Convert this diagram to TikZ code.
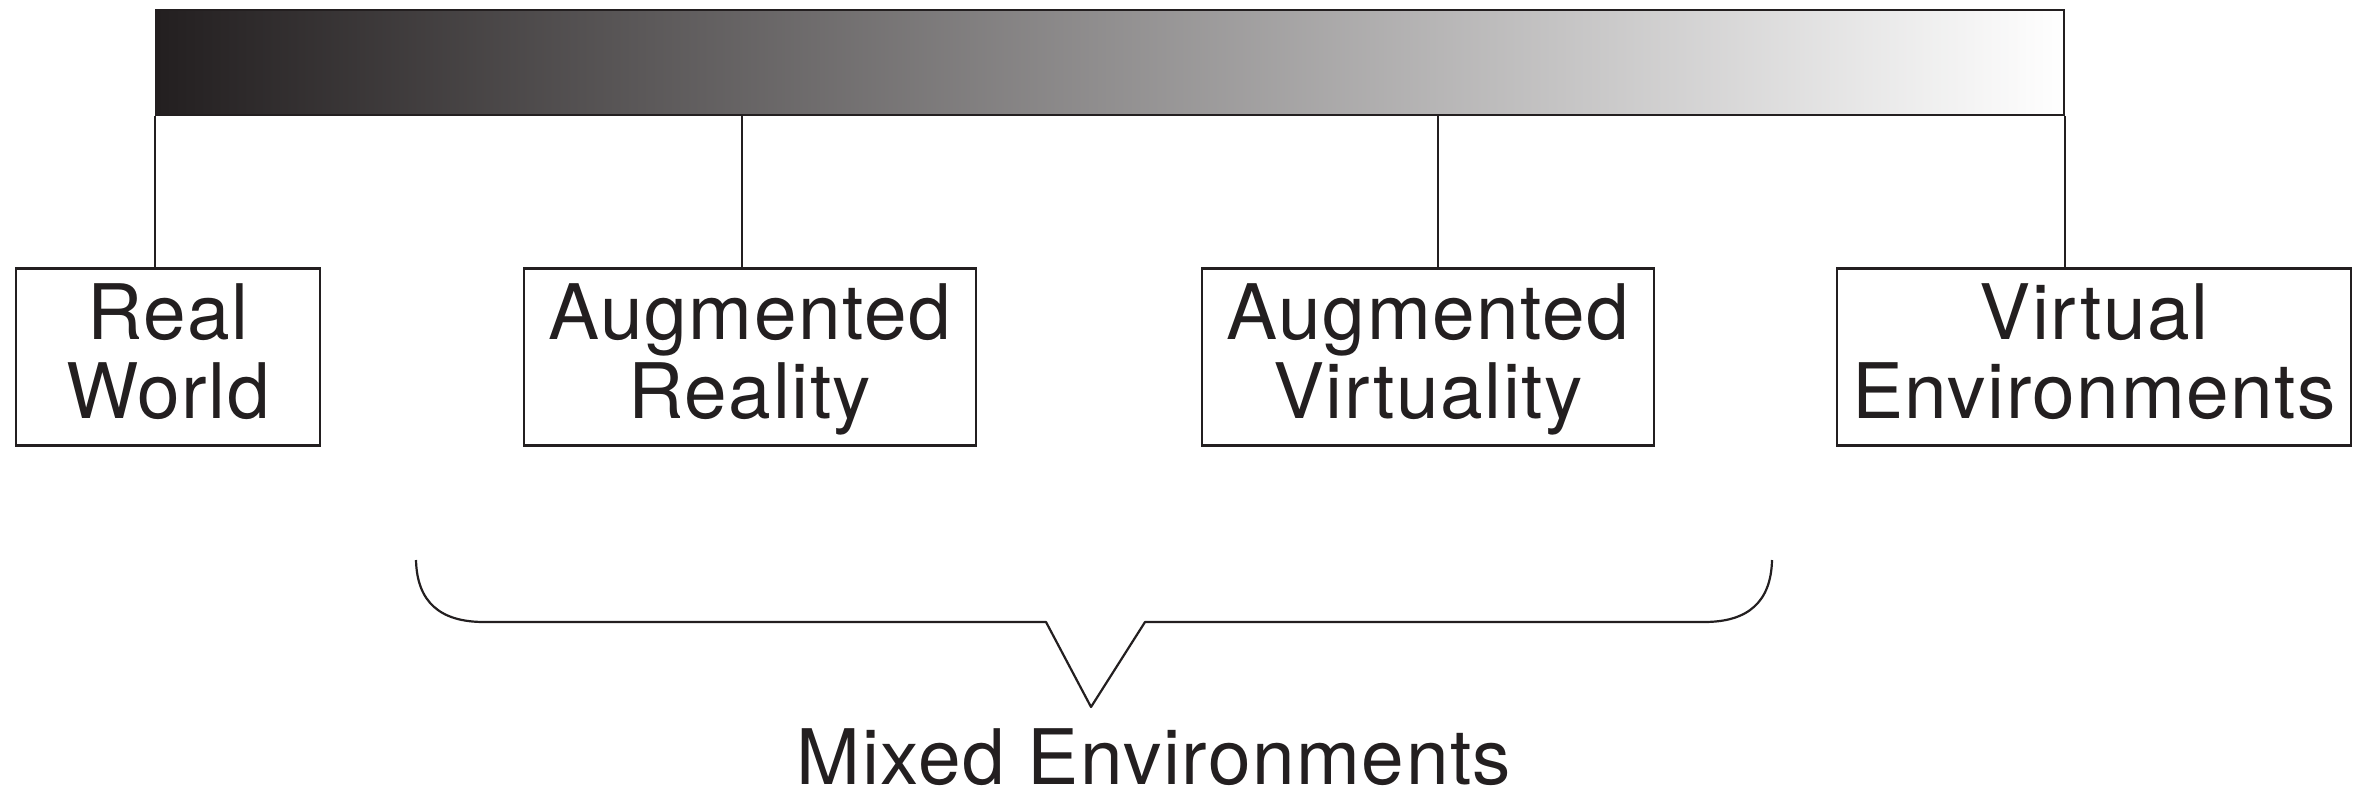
\documentclass[tikz,border=0pt]{standalone}
\usepackage{fontspec}
\setmainfont{TeX Gyre Heros}[LetterSpace=2]
\definecolor{ink}{RGB}{35,31,32}
\definecolor{midgray}{RGB}{136,137,142}
\newcommand{\toprl}{\rule{0pt}{30pt}}
\newcommand{\botrl}{\rule[-8pt]{0pt}{8pt}}
\begin{document}
\begin{tikzpicture}[x=0.5pt,y=-0.5pt,
  every node/.style={text=ink},
  envbox/.style={draw=ink, line width=1.3pt, fill=white, minimum height=88.5pt, inner sep=0pt,
    align=center, font=\fontsize{38.3}{39.5}\selectfont},
  tick/.style={draw=ink, line width=1pt},
  bracestyle/.style={draw=ink, line width=1.1pt, line join=round}]
\useasboundingbox (0,0) rectangle (2369,793);
% gradient bar
\node (bar) [draw=ink, line width=1.2pt, left color=ink, middle color=midgray, right color=white,
  minimum width=954pt, minimum height=52.5pt, inner sep=0pt] at (1110,62.5) {};
% boxes
\node (rw) [envbox, minimum width=152pt] at (168,357) {\toprl Real\\World\botrl};
\node (ar) [envbox, minimum width=226pt] at (750,357) {\toprl Augmented\\Reality\botrl};
\node (av) [envbox, minimum width=226pt] at (1428,357) {\toprl Augmented\\Virtuality\botrl};
\node (ve) [envbox, minimum width=257pt] at (2094,357) {\toprl Virtual\\Environments\botrl};
% connectors
\coordinate (t1) at (bar.south west);
\coordinate (t2) at (742,115);
\coordinate (t3) at (1438,115);
\coordinate (t4) at (bar.south east);
\draw[tick] (t1) -- (t1 |- rw.north);
\draw[tick] (t2) -- (t2 |- ar.north);
\draw[tick] (t3) -- (t3 |- av.north);
\draw[tick] (t4) -- (t4 |- ve.north);
% brace
\coordinate (tip) at (1091,707);
\draw[bracestyle] (416,560) .. controls (417,602) and (440,622) .. (484,622)
  -- (1046,622) -- (tip) -- (1145,622) -- (1704,622)
  .. controls (1748,622) and (1771,602) .. (1772,560);
\node (mixed) [anchor=base, inner sep=0pt, font=\fontsize{38.3}{39}\selectfont] at (1154,784) {Mixed Environments};
\end{tikzpicture}
\end{document}
